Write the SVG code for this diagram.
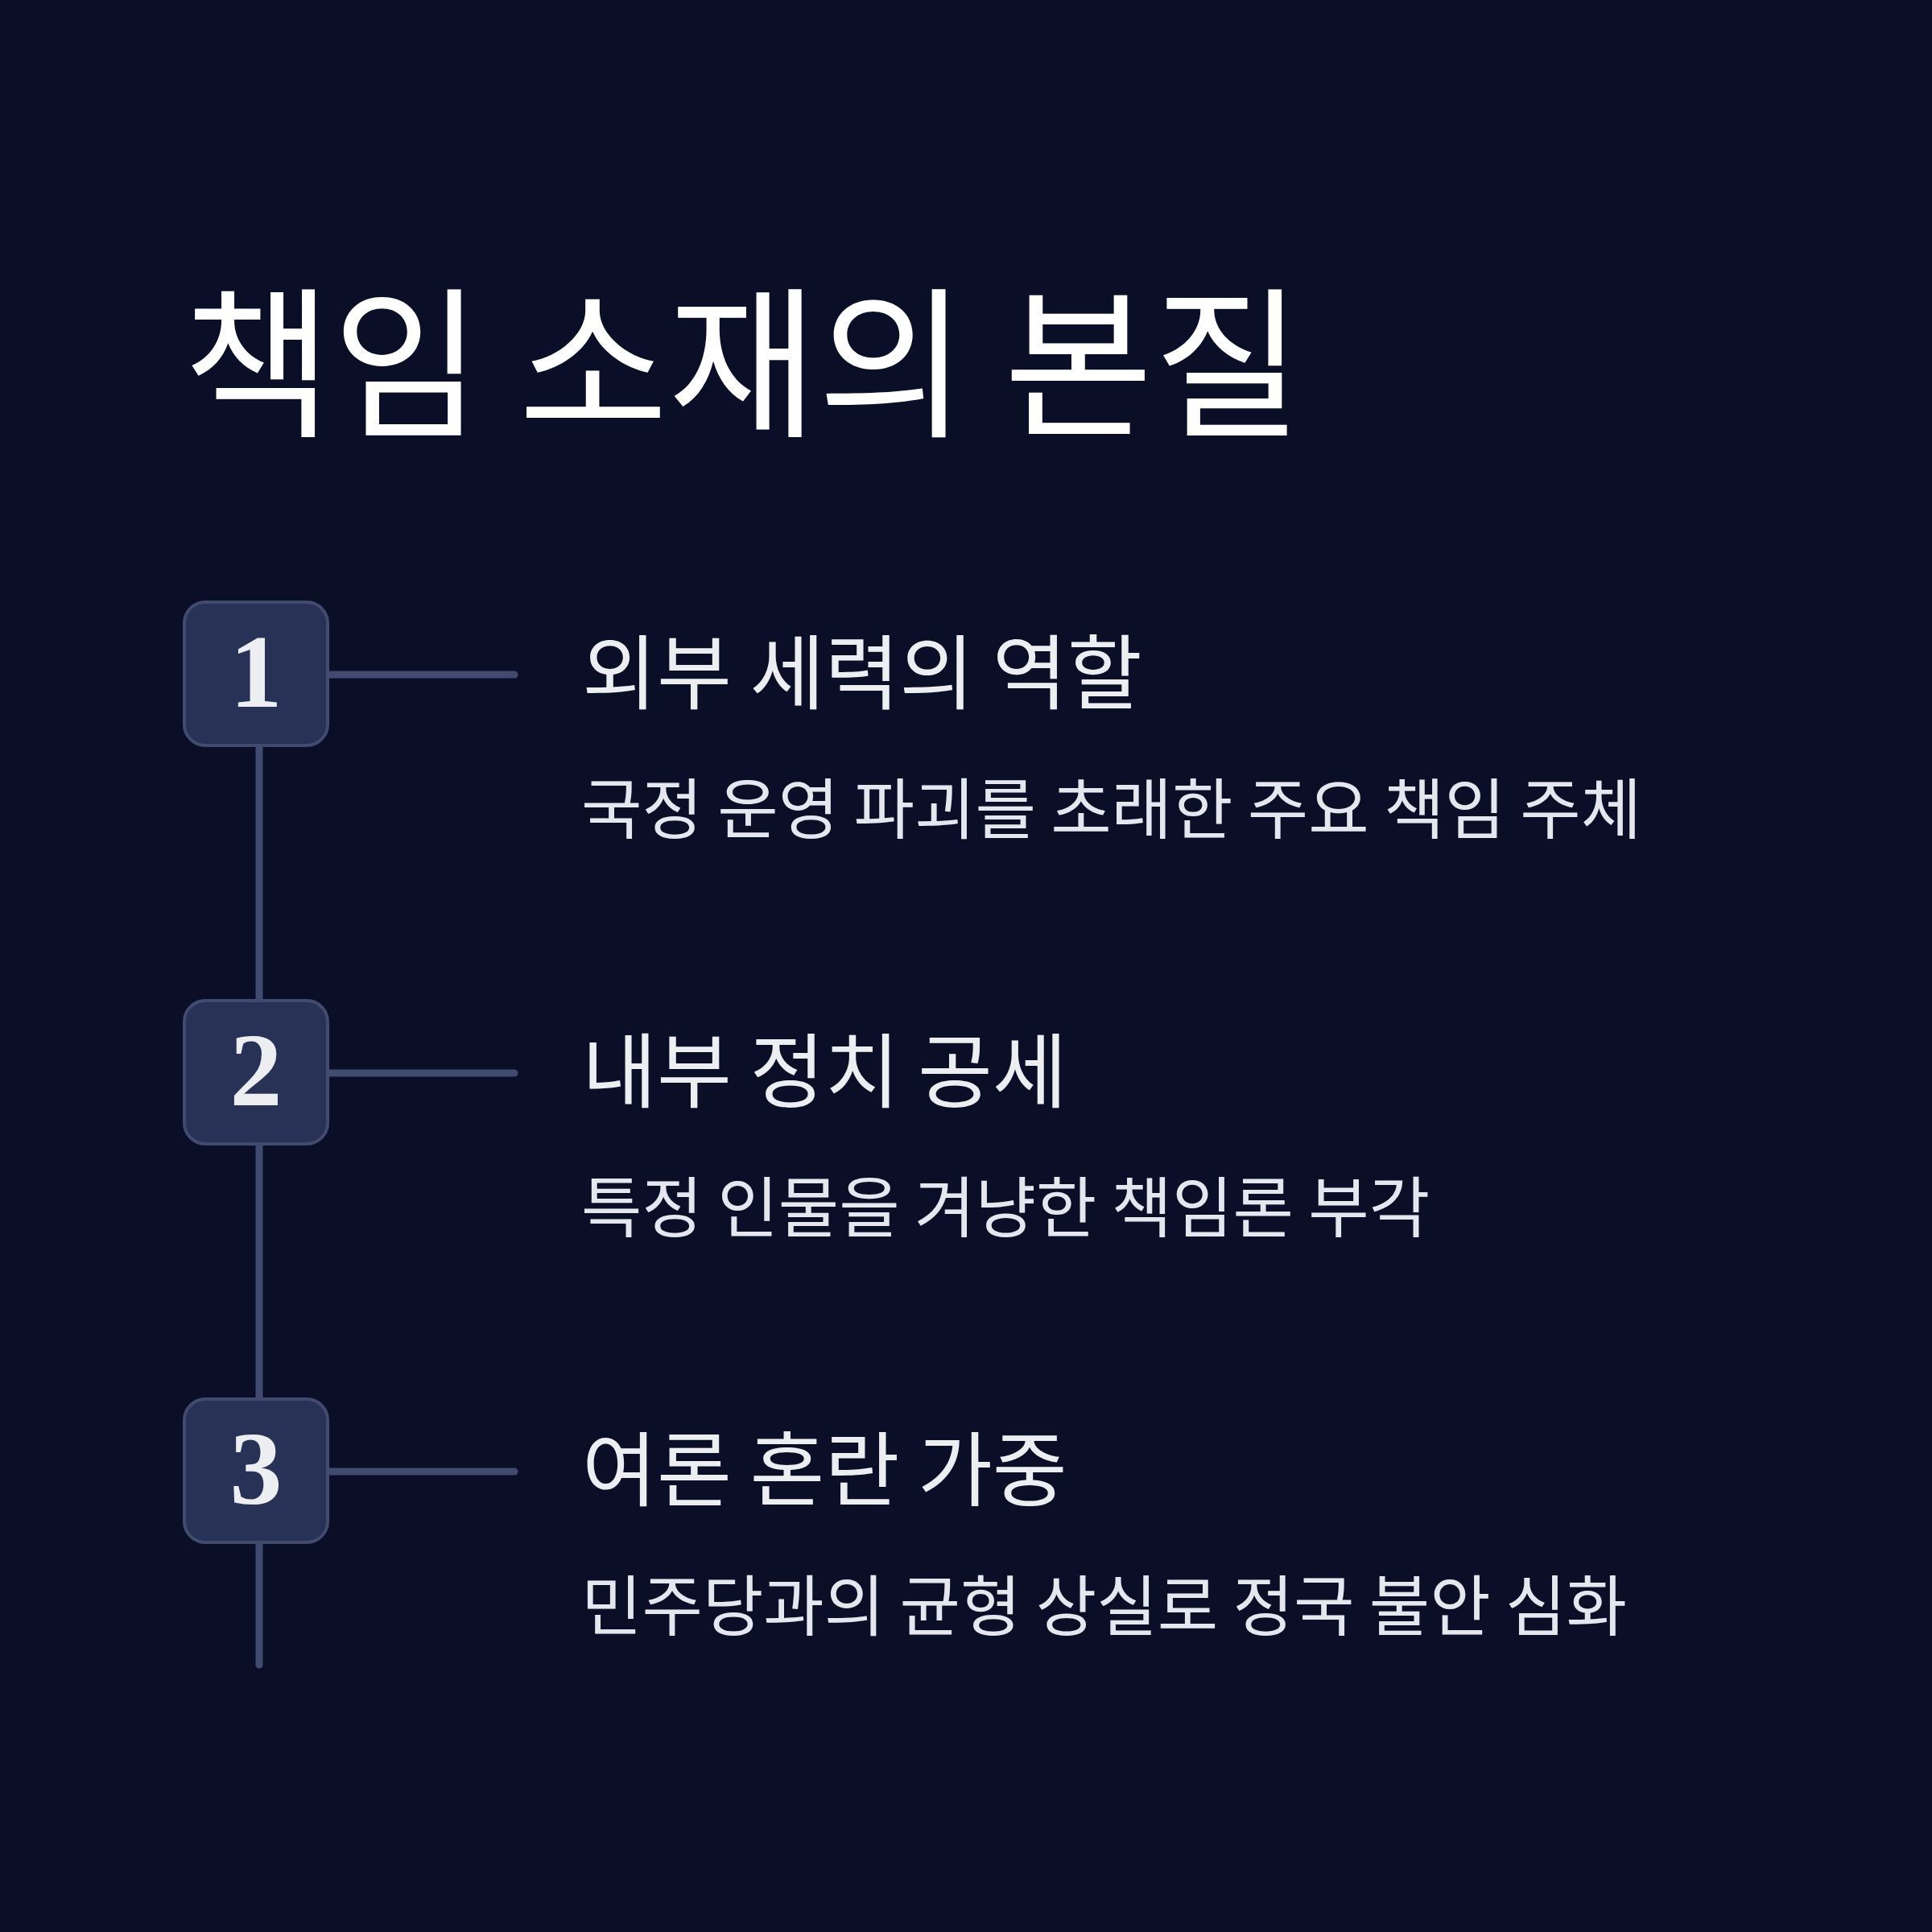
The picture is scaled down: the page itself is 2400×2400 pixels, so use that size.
<svg xmlns="http://www.w3.org/2000/svg" width="2400" height="2400" viewBox="0 0 2400 2400">
<style>
.title{font-family:"Noto Sans CJK KR","Noto Sans",sans-serif;font-size:202px;fill:#ffffff;font-weight:400}
.head{font-family:"Noto Sans CJK KR","Noto Sans",sans-serif;font-size:101px;fill:#eceef2}
.sub{font-family:"Noto Sans CJK KR","Noto Sans",sans-serif;font-size:82px;fill:#e4e7ee}
.box{fill:#283256;stroke:#414b70;stroke-width:4}
.num{font-family:"Liberation Serif","Times New Roman",serif;font-weight:bold;font-size:130px;fill:#eceef2;text-anchor:middle}
.conn{stroke:#414b70;stroke-width:9;stroke-linecap:round;fill:none}
</style>
<rect width="2400" height="2400" fill="#0a0e27"/>
<text class="title" x="227" y="527">책임 소재의 본질</text>
<g id="connectors">
<line class="conn" x1="322" y1="900" x2="322" y2="2068"/>
<line class="conn" x1="400" y1="838" x2="639" y2="838"/>
<line class="conn" x1="400" y1="1333" x2="639" y2="1333"/>
<line class="conn" x1="400" y1="1828" x2="639" y2="1828"/>
</g>
<g id="node1">
<rect class="box" x="229" y="748" width="178" height="178" rx="26"/>
<text class="num" x="318" y="878">1</text>
<text class="head" x="723" y="873">외부 세력의 역할</text>
<text class="sub" x="722" y="1035">국정 운영 파괴를 초래한 주요 책임 주체</text>
</g>
<g id="node2">
<rect class="box" x="229" y="1243" width="178" height="178" rx="26"/>
<text class="num" x="318" y="1373">2</text>
<text class="head" x="723" y="1368">내부 정치 공세</text>
<text class="sub" x="722" y="1530">특정 인물을 겨냥한 책임론 부각</text>
</g>
<g id="node3">
<rect class="box" x="229" y="1738" width="178" height="178" rx="26"/>
<text class="num" x="318" y="1868">3</text>
<text class="head" x="723" y="1863">여론 혼란 가중</text>
<text class="sub" x="722" y="2025">민주당과의 균형 상실로 정국 불안 심화</text>
</g>
</svg>
